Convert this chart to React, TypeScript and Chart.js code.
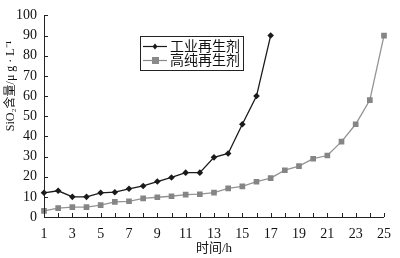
import React, { useEffect, useRef } from "react";
import { Chart, registerables } from "chart.js";

Chart.register(...registerables);

const hours = ["1","2","3","4","5","6","7","8","9","10","11","12","13","14","15","16","17","18","19","20","21","22","23","24","25"];
const industrial = [12, 13, 10, 10, 12, 12.3, 14, 15.4, 17.6, 19.6, 22, 22, 29.6, 31.5, 46, 60, 90];
const highPurity = [3, 4.4, 4.9, 4.9, 5.9, 7.5, 7.8, 9.2, 9.8, 10.3, 11.1, 11.3, 12.1, 14.2, 15.2, 17.5, 19.3, 23.2, 25.2, 28.9, 30.5, 37.4, 46, 58, 90];
const seriesNames = ["工业再生剂", "高纯再生剂"];
const yTitle = "SiO₂含量/μ g · L⁻¹";
const xTitle = "时间/h";

const FONT = '"Liberation Serif", "Times New Roman", "Noto Sans CJK SC", serif';

const decorPlugin = {
  id: "decor",
  afterDraw(chart: any) {
    const ctx = chart.ctx as CanvasRenderingContext2D;
    const area = chart.chartArea;
    const xs = chart.scales.x;
    const ys = chart.scales.y;
    ctx.save();
    ctx.strokeStyle = "#222";
    ctx.lineWidth = 1;
    ctx.beginPath();
    ctx.moveTo(Math.round(area.left) + 0.5, area.top);
    ctx.lineTo(Math.round(area.left) + 0.5, Math.round(area.bottom) + 0.5);
    ctx.lineTo(area.right, Math.round(area.bottom) + 0.5);
    ctx.stroke();
    ctx.beginPath();
    ys.ticks.forEach((t: any) => {
      const y = Math.round(ys.getPixelForValue(t.value)) + 0.5;
      ctx.moveTo(area.left, y);
      ctx.lineTo(area.left + 4, y);
    });
    for (let i = 0; i < hours.length; i++) {
      const x = Math.round(xs.getPixelForValue(i)) + 0.5;
      ctx.moveTo(x, area.bottom);
      ctx.lineTo(x, area.bottom - 4);
    }
    ctx.stroke();

    ctx.fillStyle = "#111";
    ctx.font = `13px ${FONT}`;
    ctx.textAlign = "center";
    ctx.textBaseline = "middle";
    ctx.fillText(xTitle, (area.left + area.right) / 2, 249);
    ctx.save();
    ctx.translate(11, 86);
    ctx.rotate(-Math.PI / 2);
    ctx.font = `12px ${FONT}`;
    ctx.fillText(yTitle, 0, 0);
    ctx.restore();

    const bx = 140, by = 36, bw = 103, bh = 34;
    ctx.fillStyle = "#fff";
    ctx.fillRect(bx, by, bw, bh);
    ctx.strokeStyle = "#222";
    ctx.lineWidth = 1;
    ctx.strokeRect(bx + 0.5, by + 0.5, bw, bh);
    const rows = [
      { y: 46, color: "#1a1a1a", marker: "diamond" },
      { y: 60, color: "#8a8a8a", marker: "square" },
    ];
    rows.forEach((r, i) => {
      ctx.strokeStyle = r.color;
      ctx.lineWidth = 1.2;
      ctx.beginPath();
      ctx.moveTo(143, r.y + 0.5);
      ctx.lineTo(167, r.y + 0.5);
      ctx.stroke();
      ctx.fillStyle = r.color;
      if (r.marker === "diamond") {
        ctx.beginPath();
        ctx.moveTo(155, r.y - 2.5);
        ctx.lineTo(157.5, r.y + 0.5);
        ctx.lineTo(155, r.y + 3.5);
        ctx.lineTo(152.5, r.y + 0.5);
        ctx.closePath();
        ctx.fill();
      } else {
        ctx.fillRect(152, r.y - 3, 7, 7);
      }
      ctx.fillStyle = "#111";
      ctx.font = `14px ${FONT}`;
      ctx.textAlign = "left";
      ctx.textBaseline = "middle";
      ctx.fillText(seriesNames[i], 170, r.y + 1);
    });
    ctx.restore();
  },
};

export default function App() {
  const ref = useRef<HTMLCanvasElement>(null);
  useEffect(() => {
    document.body.style.margin = "0";
    const chart = new Chart(ref.current as HTMLCanvasElement, {
      type: "line",
      data: {
        labels: hours,
        datasets: [
          {
            label: seriesNames[0],
            data: industrial,
            borderColor: "#1a1a1a",
            backgroundColor: "#1a1a1a",
            borderWidth: 1.3,
            pointStyle: "rectRot",
            pointRadius: 3.3,
            pointBorderWidth: 0,
            tension: 0,
          },
          {
            label: seriesNames[1],
            data: highPurity,
            borderColor: "#939393",
            backgroundColor: "#858585",
            borderWidth: 1.3,
            pointStyle: "rect",
            pointRadius: 4,
            pointBorderWidth: 0,
            tension: 0,
          },
        ],
      },
      options: {
        animation: false,
        responsive: false,
        layout: { padding: { left: 0, right: 12, top: 13, bottom: 0 } },
        plugins: { legend: { display: false }, tooltip: { enabled: false } },
        scales: {
          x: {
            type: "category",
            offset: false,
            border: { display: false },
            grid: { display: false, drawTicks: false },
            ticks: {
              autoSkip: false,
              maxRotation: 0,
              padding: 9,
              color: "#111",
              font: { family: FONT, size: 14 },
              callback: (v: any, i: number) => (i % 2 === 0 ? hours[i] : ""),
            },
            afterFit: (s: any) => { s.height = 41; },
          },
          y: {
            min: 0,
            max: 100,
            border: { display: false },
            grid: { display: false, drawTicks: false },
            ticks: {
              stepSize: 10,
              padding: 7,
              color: "#111",
              font: { family: FONT, size: 14 },
            },
            afterFit: (s: any) => { s.width = 44; },
          },
        },
      },
      plugins: [decorPlugin],
    });
    return () => chart.destroy();
  }, []);
  return <canvas ref={ref} width={400} height={258} style={{ display: "block" }} />;
}
